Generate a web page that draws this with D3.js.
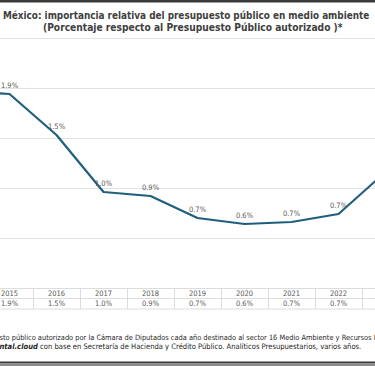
<!DOCTYPE html>
<html><head><meta charset="utf-8">
<script src="https://cdn.jsdelivr.net/npm/d3@7"></script>
<style>body{margin:0;background:#fff;}svg{display:block;}</style>
</head><body>
<svg id="c" width="375" height="366"></svg>
<script>
const years = [2014, 2015, 2016, 2017, 2018, 2019, 2020, 2021, 2022, 2023];
const values = [1.97, 1.94, 1.53, 0.96, 0.92, 0.70, 0.64, 0.66, 0.74, 1.16];
const yTicks = [0, 0.5, 1.0, 1.5, 2.0];
const title1 = "México: importancia relativa del presupuesto público en medio ambiente";
const title2 = "(Porcentaje respecto al Presupuesto Público autorizado )*";
const note1 = "sto público autorizado por la Cámara de Diputados cada año destinado al sector 16 Medio Ambiente y Recursos N";
const note2a = "ntal.cloud";
const note2b = " con base en  Secretaría de Hacienda y Crédito Público. Analíticos Presupuestarios, varios años.";

const FONT = "'Liberation Sans Narrow','DejaVu Sans Condensed','Roboto',sans-serif";
const svg = d3.select("#c");
const W = 375;

function fit(sel, target, fs) {
  sel.attr("font-size", fs);
  const len = sel.node().getComputedTextLength();
  const nf = fs * target / len;
  sel.attr("font-size", nf);
  return nf;
}

// top / bottom bands
svg.append("rect").attr("x",0).attr("y",0).attr("width",W).attr("height",2.5).attr("fill","#3a3a3a");
svg.append("rect").attr("x",0).attr("y",361.5).attr("width",W).attr("height",2).attr("fill","#3a3a3a");
svg.append("rect").attr("x",0).attr("y",363.5).attr("width",W).attr("height",2.5).attr("fill","#8a8a8a");

// titles
const t1 = svg.append("text").attr("x",3).attr("y",18.5).attr("font-family",FONT)
  .attr("font-weight","bold").attr("fill","#404040").text(title1);
fit(t1, 367, 12);
const t2 = svg.append("text").attr("x",43).attr("y",31).attr("font-family",FONT)
  .attr("font-weight","bold").attr("fill","#404040").text(title2);
fit(t2, 300, 12);

svg.append("line").attr("x1",0).attr("x2",W).attr("y1",38.5).attr("y2",38.5)
  .attr("stroke","#e4e4e4").attr("stroke-width",1);

// scales
const x = d3.scaleBand().domain(years).range([-61, -61 + 47 * years.length]).padding(0);
const y = d3.scaleLinear().domain([0, 2]).range([288, 88]);
const cx = d => x(d) + x.bandwidth() / 2;

// gridlines
svg.append("g").selectAll("line").data(yTicks.filter(t => t > 0)).join("line")
  .attr("x1",0).attr("x2",W).attr("y1",d => Math.round(y(d)) + 0.5).attr("y2",d => Math.round(y(d)) + 0.5)
  .attr("stroke","#e3e3e3").attr("stroke-width",1);

// line
const data = years.map((yr, i) => ({yr, v: values[i]}));
svg.append("path").datum(data)
  .attr("fill","none").attr("stroke","#1f5f7e").attr("stroke-width",2.2)
  .attr("stroke-linejoin","round")
  .attr("d", d3.line().x(d => cx(d.yr)).y(d => y(d.v)));

const fmt = v => d3.format(".1f")(v) + "%";
// only texts whose column lies within the visible window
const visible = data.filter(d => cx(d.yr) > 0 && cx(d.yr) < W);

// data labels
svg.append("g").selectAll("text").data(visible).join("text")
  .attr("x", d => cx(d.yr)).attr("y", d => y(d.v) - 6.5)
  .attr("text-anchor","middle").attr("font-family",FONT).attr("font-size",7.5)
  .attr("fill","#595959").text(d => fmt(d.v));

// table
const tTop = 288.5, tMid = 298.5, tBot = 309;
[tTop, tMid, tBot].forEach(yy => svg.append("line").attr("x1",0).attr("x2",W)
  .attr("y1",yy).attr("y2",yy).attr("stroke","#dcdcdc").attr("stroke-width",1));
svg.append("g").selectAll("line").data(years).join("line")
  .attr("x1", d => Math.round(x(d)) + 0.5).attr("x2", d => Math.round(x(d)) + 0.5)
  .attr("y1", tTop).attr("y2", tBot).attr("stroke","#dcdcdc").attr("stroke-width",1);
svg.append("g").selectAll("text").data(visible).join("text")
  .attr("x", d => cx(d.yr)).attr("y", 296)
  .attr("text-anchor","middle").attr("font-family",FONT).attr("font-size",7.5)
  .attr("fill","#595959").text(d => d.yr);
svg.append("g").selectAll("text").data(visible).join("text")
  .attr("x", d => cx(d.yr)).attr("y", 306)
  .attr("text-anchor","middle").attr("font-family",FONT).attr("font-size",7.5)
  .attr("fill","#595959").text(d => fmt(d.v));

// footnotes
const n2 = svg.append("text").attr("x",-0.5).attr("y",349).attr("font-family",FONT).attr("fill","#262626");
n2.append("tspan").attr("font-weight","bold").attr("font-style","italic").text(note2a);
n2.append("tspan").text(note2b);
const nf = fit(n2, 362.5, 9);
const n1 = svg.append("text").attr("x",-0.5).attr("y",339.5).attr("font-family",FONT).attr("fill","#262626")
  .text(note1);
fit(n1, 379, nf);
</script>
</body></html>
